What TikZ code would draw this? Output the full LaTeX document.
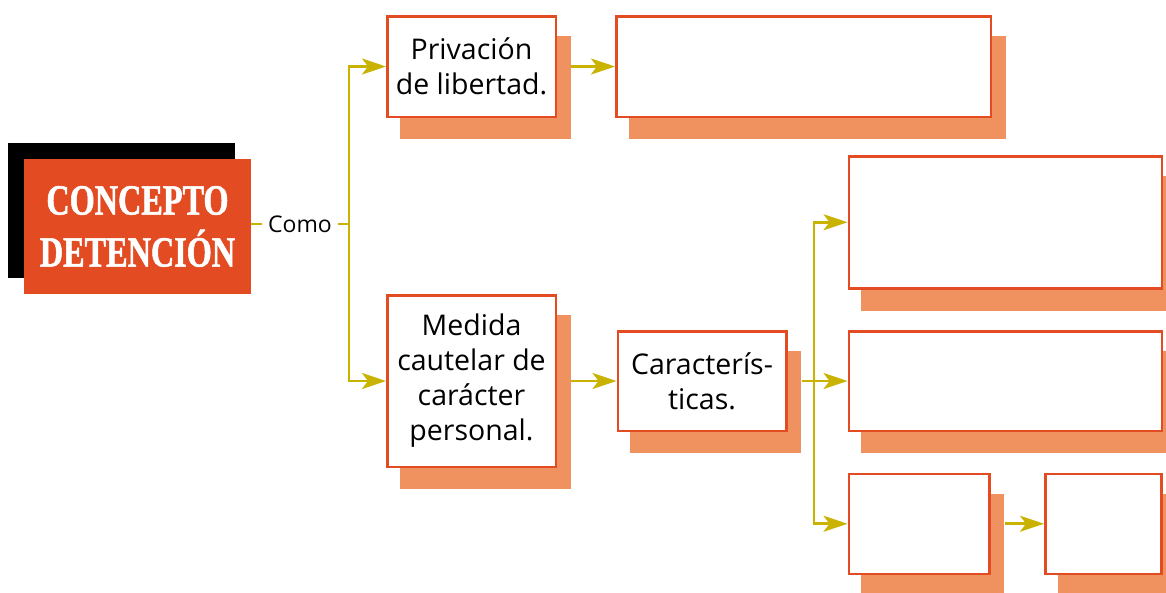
\documentclass[tikz,border=0pt]{standalone}
\usepackage{fontspec}
\setmainfont{Open Sans}
\newfontfamily\titlefont[FakeStretch=0.75, FakeBold=1.2]{Liberation Serif}
\usetikzlibrary{arrows.meta,shadows}

\definecolor{rojo}{HTML}{E34B22}
\definecolor{salmon}{HTML}{F09260}
\definecolor{oliva}{HTML}{C9B200}

\begin{document}
\begin{tikzpicture}[x=1pt, y=-1pt,
    caja/.style={draw=rojo, line width=2.5pt, fill=white, inner sep=0pt,
        align=center, font=\fontsize{28.5}{35}\selectfont,
        drop shadow={shadow xshift=13.5pt, shadow yshift=-21pt,
            fill=salmon, draw=salmon, opacity=1}},
    linea/.style={draw=oliva, line width=2.7pt},
    flecha/.style={linea, -{Stealth[length=24pt, width=16pt, inset=6pt]}}]

\useasboundingbox (0,0) rectangle (1166,592);
\clip (0,0) rectangle (1166,592);

% titulo
\node [fill=rojo, text=white, minimum width=227pt, minimum height=135pt,
       inner sep=0pt, align=center,
       font=\titlefont\bfseries\fontsize{43}{52}\selectfont,
       drop shadow={shadow xshift=-16pt, shadow yshift=16pt, fill=black, opacity=1}]
    (concepto) at (137.5,226.5) {CONCEPTO\\DETENCIÓN};
\node [font=\fontsize{23}{26}\selectfont, inner sep=6pt] (como) at (300,224) {Como};

% cajas
\node [caja, minimum width=168.5pt, minimum height=100.5pt] (priv) at (471.5,66.5)
    {Privación\\de libertad.};
\node [caja, minimum width=374.5pt, minimum height=100.5pt] (vacio) at (803.5,66.5) {};
\node [caja, minimum width=168.5pt, minimum height=171.5pt] (medida) at (471.5,381)
    {Medida\\cautelar de\\carácter\\personal.};
\node [caja, minimum width=168.5pt, minimum height=99.5pt] (carac) at (702,381)
    {Caracterís-\\ticas.};
\node [caja, minimum width=313pt, minimum height=132pt] (a) at (1005.25,222.25) {};
\node [caja, minimum width=313pt, minimum height=99.5pt] (b) at (1005.25,381) {};
\node [caja, minimum width=140.5pt, minimum height=100pt] (c) at (919,523.75) {};
\node [caja, minimum width=116pt, minimum height=100pt] (d) at (1103.25,523.75) {};

\coordinate (ramal) at (349,224);
\coordinate (ramal2) at (814,381);

% conectores
\draw [linea] (concepto.east |- como.west) -- (como);
\draw [linea] (como) -- (ramal);
\foreach \n in {priv,medida}
    \draw [flecha] (ramal) |- (\n);
\draw [flecha] ([xshift=14pt]priv.east) -- (vacio);
\draw [flecha] ([xshift=14pt]medida.east) -- (carac);
\draw [linea] ([xshift=14pt]carac.east) -- (ramal2);
\foreach \n in {a,b,c}
    \draw [flecha] (ramal2) |- (\n);
\draw [flecha] ([xshift=14pt]c.east) -- (d);

\end{tikzpicture}
\end{document}
